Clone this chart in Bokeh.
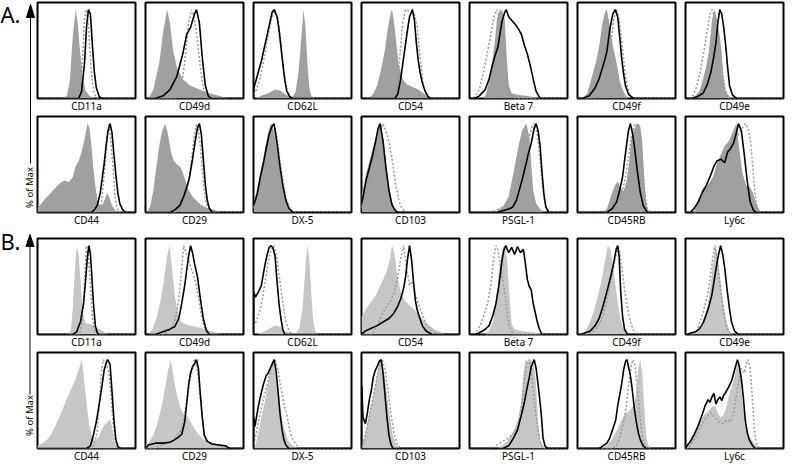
import math
from bokeh.plotting import figure
from bokeh.layouts import row, column
from bokeh.models import Range1d, FixedTicker
from bokeh.core.properties import value
from bokeh.embed import file_html
from bokeh.resources import INLINE

FONT = "Noto Sans"

markers_top = ["CD11a", "CD49d", "CD62L", "CD54", "Beta 7", "CD49f", "CD49e"]
markers_bottom = ["CD44", "CD29", "DX-5", "CD103", "PSGL-1", "CD45RB", "Ly6c"]
groups = ["A.", "B."]
y_title = "% of Max"

# ---- data: (channel %, % of max) ----
# Group A
A_CD11a_fill = [(26,0),(30,3),(33,20),(36,70),(39,100),(41,85),(43,58),(46,25),(49,9),(53,3),(58,0)]
A_CD11a_black = [(42,0),(45,8),(48,40),(50,80),(52,100),(54,95),(56,60),(58,30),(60,12),(63,2),(66,0)]
A_CD11a_dash = [(42,0),(44,8),(46,45),(48,90),(50,100),(52,80),(54,45),(56,18),(58,5),(61,0)]

A_CD49d_fill = [(3,0),(8,10),(14,40),(18,75),(22,100),(25,85),(28,55),(32,35),(38,22),(45,15),(55,10),(65,6),(75,3),(85,0)]
A_CD49d_black = [(10,0),(18,3),(25,10),(32,25),(38,50),(42,72),(46,80),(50,95),(52,100),(55,85),(58,45),(61,15),(64,3),(67,0)]
A_CD49d_dash = [(30,0),(36,10),(40,40),(44,85),(47,100),(50,90),(53,65),(56,35),(59,12),(62,3),(65,0)]

A_CD62L_fill = [(2,0),(8,3),(15,6),(22,10),(27,9),(32,5),(37,2),(40,2),(43,8),(46,30),(49,70),(51,100),(53,80),(55,40),(57,12),(59,3),(62,0)]
A_CD62L_black = [(0,0),(0.3,12),(2,18),(5,30),(8,42),(12,62),(16,82),(19,97),(21,100),(24,92),(26,78),(28,58),(30,38),(32,20),(34,8),(37,2),(40,0)]
A_CD62L_dash = [(0,0),(0.3,5),(3,10),(6,20),(10,40),(14,65),(18,88),(22,100),(25,90),(28,60),(31,30),(34,10),(37,2),(40,0)]

A_CD54_fill = [(7,0),(12,5),(16,15),(20,33),(24,55),(27,80),(30,97),(31,100),(33,88),(35,68),(38,38),(42,22),(46,16),(52,13),(58,10),(64,5),(70,0)]
A_CD54_black = [(34,0),(37,5),(40,22),(43,46),(46,70),(49,92),(52,100),(54,88),(56,62),(58,42),(60,28),(62,18),(65,8),(68,2),(71,0)]
A_CD54_dash = [(33,0),(36,10),(38,30),(40,60),(42,85),(45,100),(50,98),(54,95),(57,80),(59,55),(61,35),(63,15),(66,4),(69,0)]

A_Beta7_fill = [(14,0),(17,5),(20,20),(23,40),(26,65),(28,90),(31,100),(34,98),(36,88),(38,45),(40,15),(43,6),(50,4),(58,3),(64,2),(68,0)]
A_Beta7_black = [(5,0),(10,3),(16,10),(20,22),(23,36),(26,48),(29,58),(33,86),(36,97),(37.5,100),(40,92),(43,88),(47,83),(50,78),(53,72),(56,60),(59,50),(62,37),(65,22),(68,8),(71,2),(73,0)]
A_Beta7_dash = [(3,0),(6,3),(10,10),(14,28),(17,45),(21,68),(25,92),(28,100),(31,90),(34,70),(37,35),(40,10),(43,2),(46,0)]

A_CD49f_fill = [(5,0),(10,6),(15,26),(19,42),(22,58),(25,82),(28,97),(30,100),(33,82),(36,60),(40,40),(43,20),(46,10),(49,4),(52,0)]
A_CD49f_black = [(5,0),(12,3),(18,12),(22,22),(25,33),(28,44),(30,53),(33,78),(36,95),(38.5,100),(41,92),(43,70),(45,46),(47,28),(49,14),(52,5),(56,1),(58,0)]
A_CD49f_dash = [(20,0),(24,5),(28,15),(31,30),(34,60),(37,90),(40,100),(43,85),(46,55),(49,25),(52,8),(55,2),(58,0)]

A_CD49e_fill = [(5,0),(10,3),(14,8),(18,22),(21,36),(24,54),(27,88),(29.5,100),(32,90),(35,70),(37,50),(38.5,25),(41,8),(44,3),(47,0)]
A_CD49e_black = [(6,0),(12,2),(18,6),(22,15),(26,30),(29,48),(31,62),(33,85),(35,100),(37,95),(39,80),(41,60),(43,35),(45,14),(48,4),(52,0)]
A_CD49e_dash = [(5,0),(8,4),(11,12),(15,30),(19,55),(22,75),(25,95),(27,100),(30,92),(33,75),(36,50),(38,28),(40,12),(43,3),(46,0)]

A_CD44_fill = [(0,5),(4,10),(8,16),(12,20),(16,25),(20,30),(24,34),(28,36),(32,34),(36,40),(39,52),(42,58),(45,68),(48,82),(51,100),(53,95),(55,75),(57,50),(59,30),(61,15),(63,9),(66,8),(69,16),(71,22),(73,18),(76,8),(79,3),(82,0)]
A_CD44_black = [(55,0),(58,3),(61,8),(64,22),(66,38),(68,55),(70,75),(72,92),(74,100),(76,90),(78,65),(80,42),(82,22),(84,10),(87,3),(90,0)]
A_CD44_dash = [(62,0),(65,8),(67,30),(69,55),(71,85),(73,100),(75,80),(77,50),(79,20),(81,6),(83,0)]

A_CD29_fill = [(2,0),(5,8),(8,25),(11,50),(14,75),(17,92),(20,100),(23,88),(26,68),(29,58),(32,54),(35,52),(38,45),(41,35),(44,25),(48,18),(53,12),(58,8),(63,5),(70,3),(78,0)]
A_CD29_black = [(25,0),(30,3),(35,8),(39,18),(42,28),(45,40),(48,60),(51,82),(53,95),(55,100),(57,88),(59,60),(61,32),(63,14),(65,5),(68,0)]
A_CD29_dash = [(30,0),(35,5),(40,15),(44,35),(47,60),(50,88),(52,100),(54,92),(56,75),(58,48),(60,25),(62,10),(65,3),(68,0)]

A_DX5_fill = [(0,10),(2,18),(4,28),(7,45),(10,60),(13,80),(16,95),(18,100),(21,92),(24,70),(27,48),(30,28),(33,14),(36,5),(40,0)]
A_DX5_black = [(0,8),(2,14),(4,22),(7,40),(10,55),(13,72),(16,88),(19,97),(21,100),(24,78),(27,52),(30,30),(33,14),(36,5),(40,0)]
A_DX5_dash = [(0,5),(3,15),(6,30),(10,55),(14,80),(18,96),(21,100),(24,85),(27,58),(30,35),(33,16),(37,5),(41,0)]

A_CD103_fill = [(0,20),(2,28),(5,45),(8,58),(11,70),(14,82),(17,94),(19,100),(22,85),(25,55),(28,30),(31,12),(34,4),(37,0)]
A_CD103_black = [(0,10),(2,20),(5,38),(8,50),(11,63),(14,78),(17,95),(19,100),(22,80),(25,50),(28,25),(31,9),(34,3),(37,0)]
A_CD103_dash = [(0,5),(3,15),(6,32),(10,55),(14,75),(18,92),(22,100),(26,88),(29,74),(32,55),(35,30),(38,14),(41,5),(45,0)]

A_PSGL1_fill = [(25,0),(30,3),(35,8),(40,18),(44,40),(47,57),(51,80),(54,93),(58,100),(61,85),(63,55),(65,25),(68,10),(72,4),(76,0)]
A_PSGL1_black = [(28,0),(34,2),(40,4),(44,6),(48,14),(51,26),(54,38),(57.5,54),(60,66),(63,78),(66,95),(68,100),(70,92),(72,75),(74,45),(76,20),(78,6),(81,0)]
A_PSGL1_dash = [(22,0),(28,3),(34,6),(40,12),(45,22),(50,38),(55,60),(60,82),(64,97),(66,100),(69,90),(72,60),(74,35),(76,15),(78,5),(81,0)]

A_CD45RB_fill = [(26,0),(30,4),(34,18),(38,30),(41,35),(44,28),(47,24),(50,35),(53,60),(55,85),(58,94),(61,100),(64,98),(66,80),(68,40),(70,10),(73,0)]
A_CD45RB_black = [(30,0),(35,4),(40,12),(43,25),(46,40),(49,67),(52,92),(54,100),(56,90),(58,75),(61,47),(64,23),(67,8),(70,2),(72,0)]
A_CD45RB_dash = [(33,0),(40,6),(45,20),(49,40),(52,62),(55,85),(58,98),(60,100),(63,90),(65,72),(67,45),(69,18),(71,5),(74,0)]

A_Ly6c_fill = [(8,0),(12,10),(16,20),(20,27),(24,33),(28,40),(32,55),(36,65),(40,75),(44,80),(48,90),(52,100),(55,70),(58,45),(62,30),(66,28),(69,22),(72,10),(75,3),(78,0)]
A_Ly6c_black = [(5,0),(9,5),(13,12),(17,22),(21,30),(25,40),(29,52),(32,58),(36,60),(40,56),(43,68),(46,72),(49,78),(52,90),(54,100),(57,92),(60,65),(63,35),(66,12),(69,3),(72,0)]
A_Ly6c_dash = [(10,0),(14,10),(18,28),(22,25),(26,32),(30,40),(34,48),(38,55),(42,60),(46,68),(50,78),(54,88),(58,95),(61,100),(64,95),(67,75),(69,45),(71,20),(73,6),(76,0)]

# Group B
B_CD11a_fill = [(31,0),(34,5),(36,30),(38,70),(40,100),(42,90),(44,60),(46,25),(49,13),(53,12),(58,10),(63,6),(68,3),(72,0)]
B_CD11a_black = [(36,0),(40,3),(44,15),(47,35),(49,60),(51,88),(52.5,100),(54,90),(55.5,65),(57,36),(59,10),(61,2),(63,0)]
B_CD11a_dash = [(43,0),(45,10),(47,35),(48.5,70),(50,100),(52,88),(54,55),(56,20),(58,5),(60,0)]

B_CD49d_fill = [(3,0),(7,6),(11,18),(15,36),(19,62),(22,88),(24.5,100),(27,75),(30,43),(33,25),(36,15),(40,12),(45,10),(50,9),(55,8),(60,6),(66,4),(72,2),(78,0)]
B_CD49d_black = [(10,0),(15,2),(20,4),(25,6),(30,9),(34,18),(37,35),(40,55),(42,72),(44,88),(46,100),(48,92),(50,80),(53,65),(56,40),(59,18),(62,5),(65,0)]
B_CD49d_dash = [(18,0),(24,4),(28,10),(32,25),(35,50),(37,75),(39,100),(42,90),(45,80),(48,70),(51,60),(54,42),(57,22),(60,8),(63,2),(66,0)]

B_CD62L_fill = [(3,0),(10,3),(15,6),(20,9),(24,10),(28,8),(32,4),(38,2),(44,2),(47,8),(50,30),(52,60),(54,90),(55,100),(57,85),(59,45),(61,15),(63,4),(66,0)]
B_CD62L_black = [(0,0),(0.3,48),(2,42),(5,48),(8,55),(10,68),(12,80),(14,90),(16,98),(18,100),(20,97),(22,88),(24,60),(26,35),(28,18),(30,5),(32,0)]
B_CD62L_dash = [(0,0),(0.3,10),(3,15),(6,25),(9,40),(12,60),(15,82),(18,96),(21,100),(24,85),(27,60),(30,35),(33,15),(36,5),(39,0)]

B_CD54_fill = [(0,20),(3,25),(6,31),(10,37),(14,43),(18,52),(22,62),(26,72),(29,85),(31,100),(33,95),(35,80),(37,62),(40,48),(44,38),(50,32),(56,25),(62,18),(68,11),(74,6),(80,3),(85,0)]
B_CD54_black = [(0,0),(4,4),(10,7),(16,10),(22,14),(28,18),(33,24),(37,32),(40,40),(43,52),(45,65),(47,85),(49,100),(51,85),(53,60),(55,38),(57,27),(59,20),(62,10),(66,4),(72,0)]
B_CD54_dash = [(10,0),(14,5),(18,15),(22,25),(26,32),(30,38),(34,50),(37,65),(40,85),(43,100),(46,75),(49,55),(52,60),(55,45),(58,35),(62,22),(66,12),(70,6),(75,2),(80,0)]

B_Beta7_fill = [(16,0),(20,4),(24,15),(27,40),(30,70),(33,92),(35,100),(37,96),(39,75),(41,40),(43,12),(46,6),(52,4),(60,3),(68,2),(73,0)]
B_Beta7_black = [(6,0),(10,2),(15,5),(20,10),(24,22),(27,35),(30,55),(33,82),(35,95),(37,100),(40,92),(43,98),(46,90),(49,99),(52,92),(55,96),(57,80),(59,62),(61,54),(63,50),(65,35),(67,25),(69,15),(71,7),(74,0)]
B_Beta7_dash = [(3,0),(7,3),(11,10),(15,22),(19,38),(22,58),(25,88),(27,100),(29,95),(31,80),(34,62),(37,40),(39,20),(41,8),(44,2),(47,0)]

B_CD49f_fill = [(4,0),(8,3),(12,12),(16,24),(20,40),(24,58),(28,82),(31,100),(34,95),(37,70),(40,45),(43,22),(46,9),(49,3),(53,0)]
B_CD49f_black = [(3,0),(8,2),(13,4),(18,10),(22,18),(25,28),(29,44),(32,57),(35,70),(37.5,84),(39.5,96),(41,100),(42.5,88),(44,50),(46,20),(48,6),(51,0)]
B_CD49f_dash = [(10,0),(15,3),(20,8),(25,18),(29,35),(33,55),(36,72),(39,88),(42,100),(44,85),(46,68),(48,50),(51,30),(54,14),(57,5),(60,0)]

B_CD49e_fill = [(4,0),(8,2),(12,5),(16,10),(19,20),(22,30),(25,50),(28,80),(30.5,100),(33,85),(36,58),(39,32),(42,14),(45,4),(48,0)]
B_CD49e_black = [(2,0),(6,2),(10,3),(14,6),(18,13),(21,22),(24,32),(27,45),(30,66),(33,86),(35.8,100),(38,90),(40,75),(42.5,50),(45,28),(47,14),(50,4),(54,0)]
B_CD49e_dash = [(8,0),(12,5),(15,15),(18,25),(22,42),(25,62),(28,88),(30,100),(32,88),(34,66),(36,48),(38,32),(40,18),(42,8),(45,2),(48,0)]

B_CD44_fill = [(0,3),(5,6),(10,10),(14,16),(18,25),(22,35),(26,45),(30,56),(34,66),(38,76),(42,88),(45,100),(47,85),(49,62),(51,42),(53,25),(56,13),(59,9),(62,12),(65,20),(68,26),(71,29),(74,33),(76,25),(78,10),(80,3),(82,0)]
B_CD44_black = [(50,0),(54,3),(57,15),(60,30),(63,50),(66,72),(68,88),(70,96),(71.5,100),(74,95),(76,65),(78,32),(80,10),(82,2),(85,0)]
B_CD44_dash = [(55,0),(58,5),(61,20),(63,50),(65,85),(67,100),(70,95),(73,85),(75,60),(77,30),(79,10),(82,0)]

B_CD29_fill = [(0,3),(4,8),(8,15),(12,28),(16,45),(20,68),(23,88),(26,100),(29,78),(32,60),(35,48),(38,40),(41,37),(43,36),(46,30),(50,22),(55,15),(60,10),(66,7),(72,5),(78,3),(84,0)]
B_CD29_black = [(0,0),(3,4),(10,6),(18,6),(25,7),(30,10),(34,13),(37,16),(40,30),(42,50),(44,72),(46,85),(48,92),(50,95),(52,100),(54,90),(56,60),(58,35),(60,15),(63,8),(68,5),(75,4),(82,3),(86,0)]
B_CD29_dash = [(10,0),(16,4),(22,6),(28,9),(32,14),(36,20),(39,32),(42,52),(45,75),(48,90),(50,100),(52,95),(54,80),(56,55),(58,32),(60,16),(63,8),(68,5),(73,4),(78,2),(84,0)]

B_DX5_fill = [(1,0),(3,8),(6,24),(9,40),(12,55),(15,75),(18,94),(20.5,100),(23,85),(26,55),(29,35),(32,20),(35,10),(38,5),(42,2),(45,0)]
B_DX5_black = [(0,0),(0.3,35),(1.5,25),(3,35),(5,48),(7,58),(10,72),(13,82),(15,85),(17,90),(19,95),(21,100),(23,88),(25,65),(27,40),(29,22),(31,10),(33,4),(36,0)]
B_DX5_dash = [(0,0),(0.3,5),(3,18),(6,35),(10,55),(14,72),(18,90),(22,100),(25,88),(28,68),(31,50),(34,38),(37,20),(40,10),(44,4),(48,0)]

B_CD103_fill = [(0,5),(3,12),(6,28),(9,45),(12,58),(15,78),(18,95),(20,100),(23,88),(26,60),(29,35),(32,15),(35,5),(38,1),(40,0)]
B_CD103_black = [(0,0),(0.3,70),(1.5,35),(4,28),(6,40),(8,55),(10,65),(12,80),(14,88),(16,92),(18,98),(20,100),(22,85),(24,60),(26,35),(28,15),(30,5),(32,0)]
B_CD103_dash = [(0,0),(0.3,3),(3,10),(6,25),(9,42),(12,58),(15,75),(18,92),(21,100),(24,90),(27,65),(30,40),(33,18),(36,6),(40,0)]

B_PSGL1_fill = [(28,0),(33,3),(38,8),(42,14),(46,22),(50,35),(53,55),(55,85),(57,100),(60,98),(63,100),(66,92),(68,70),(70,30),(72,10),(75,3),(78,0)]
B_PSGL1_black = [(34,0),(40,3),(45,12),(49,21),(53,38),(56,52),(58,64),(61,80),(63,92),(66,100),(68,90),(70,72),(72,52),(73.5,35),(75,12),(77,3),(80,0)]
B_PSGL1_dash = [(24,0),(28,4),(34,8),(40,12),(46,18),(50,28),(53,45),(56,75),(58,92),(61,100),(63,85),(65,65),(67,45),(69,28),(71,12),(73,4),(76,0)]

B_CD45RB_fill = [(24,0),(30,4),(35,10),(40,20),(44,30),(48,38),(52,42),(55,45),(58,50),(60,65),(62,90),(64,100),(66,85),(68,50),(70,15),(72,4),(75,0)]
B_CD45RB_black = [(22,0),(26,3),(30,6),(33,12),(36,22),(39,32),(41,48),(43,60),(45,72),(47,88),(49,98),(50.5,100),(52,92),(54,82),(56,65),(58,45),(60,30),(62,18),(64,10),(67,3),(70,0)]
B_CD45RB_dash = [(36,0),(40,4),(43,12),(46,25),(49,42),(52,68),(55,95),(57,100),(59,92),(61,70),(63,45),(65,22),(67,8),(70,2),(73,0)]

B_Ly6c_fill = [(0,3),(3,6),(7,14),(11,22),(15,30),(19,38),(23,42),(27,47),(30,48),(33,40),(36,35),(39,38),(42,48),(45,62),(48,72),(51,86),(54,100),(56,85),(58,55),(60,38),(63,22),(66,12),(70,6),(74,2),(77,0)]
B_Ly6c_black = [(0,0),(2,4),(5,8),(9,16),(13,26),(17,38),(20,48),(23,55),(25,52),(27,58),(29,62),(31,50),(33,55),(35,58),(37,54),(39,60),(41,63),(44,69),(47,76),(50,88),(53,100),(55,92),(57,78),(59,58),(61,32),(63,18),(65,10),(68,4),(71,0)]
B_Ly6c_dash = [(2,0),(6,5),(10,12),(14,22),(18,30),(22,36),(26,40),(30,35),(34,30),(38,28),(42,32),(46,30),(49,40),(52,60),(55,80),(57,90),(60,85),(62,95),(64,100),(66,90),(68,60),(70,25),(72,8),(75,0)]

# ---- styling ----
FILL_COLOR = {"A": "#a0a0a0", "B": "#c6c6c6"}
DASH_COLOR = "#999999"
FW, FH = 98, 96
ROW_TOP = [2, 1, 9, 1]
BOTTOM = 13
STRIP_W = 35
LABEL_SIZE = "10px"


def key(m):
    return m.replace(" ", "").replace("-", "")


def closed(pts):
    pts = list(pts)
    if pts[0][0] > 0:
        pts = [(0, 0)] + pts
    if pts[-1][0] < 100:
        pts = pts + [(100, 0)]
    return pts


def make_panel(grp, marker, top_border):
    k = key(marker)
    fill = globals()[f"{grp}_{k}_fill"]
    black = globals()[f"{grp}_{k}_black"]
    dash = globals()[f"{grp}_{k}_dash"]
    p = figure(frame_width=FW, frame_height=FH, x_range=Range1d(0, 100), y_range=Range1d(0, 108),
               min_border_left=2, min_border_right=8, min_border_top=top_border,
               min_border_bottom=BOTTOM, toolbar_location=None, output_backend="svg",
               y_axis_location=None, tools="")
    p.xgrid.visible = False
    p.ygrid.visible = False
    ax = p.xaxis[0]
    ax.ticker = FixedTicker(ticks=[])
    ax.axis_line_color = None
    ax.major_tick_line_color = None
    ax.minor_tick_line_color = None
    ax.major_tick_out = 0
    ax.major_tick_in = 0
    ax.minor_tick_out = 0
    ax.minor_tick_in = 0
    ax.major_label_standoff = 0
    ax.major_label_text_font_size = "0px"
    ax.axis_label = marker
    ax.axis_label_standoff = 0
    ax.axis_label_text_font = FONT
    ax.axis_label_text_font_size = LABEL_SIZE
    ax.axis_label_text_font_style = "normal"
    ax.axis_label_text_color = "black"
    p.outline_line_color = "black"
    p.outline_line_width = 2
    p.outline_line_alpha = 1
    p.background_fill_color = "white"
    p.border_fill_color = "white"

    fx = [q[0] for q in fill]
    fy = [q[1] for q in fill]
    p.varea(x=fx, y1=[0] * len(fx), y2=fy, fill_color=FILL_COLOR[grp], fill_alpha=1)
    d = closed(dash)
    p.line([q[0] for q in d], [q[1] for q in d], line_color=DASH_COLOR, line_width=1.5, line_dash="2 2")
    b = closed(black)
    p.line([q[0] for q in b], [q[1] for q in b], line_color="black", line_width=1.6)
    return p


rows = []
ri = 0
for grp in ["A", "B"]:
    for markers in (markers_top, markers_bottom):
        rows.append(row(*[make_panel(grp, m, ROW_TOP[ri]) for m in markers]))
        ri += 1
grid = column(*rows)

row_h = [t + FH + BOTTOM for t in ROW_TOP]
H = sum(row_h)

# left strip with group letters and y-axis arrows
s = figure(frame_width=STRIP_W, frame_height=H, x_range=Range1d(0, STRIP_W), y_range=Range1d(0, H),
           min_border=0, toolbar_location=None, output_backend="svg", tools="",
           x_axis_location=None, y_axis_location=None)
s.xgrid.visible = False
s.ygrid.visible = False
s.outline_line_color = None
s.background_fill_color = "white"
s.border_fill_color = "white"

tops = []
acc = 0
for t, h in zip(ROW_TOP, row_h):
    tops.append(acc + t)
    acc += h

arrow_specs = [
    # (letter, letter_y, line_x, tip_y, base_y, line_end_y, text_center_y) measured from the top
    ("A.", tops[0] + 11, 30.0, tops[0] + 2, tops[0] + 15, tops[1] + 51, tops[1] + 75),
    ("B.", tops[2] + 10, 29.5, tops[2] + 4, tops[2] + 16, tops[3] + 54, tops[3] + 75),
]
for letter, ly, lx, tip, base, lend, tc in arrow_specs:
    s.text(x=[0], y=[H - ly], text=[letter], text_align="left", text_baseline="middle",
           text_font=value(FONT), text_font_size=value("22px"), text_color="black")
    s.patch(x=[lx - 4, lx, lx + 4], y=[H - base, H - tip, H - base], fill_color="black", line_color="black")
    s.line(x=[lx, lx], y=[H - base, H - lend], line_color="black", line_width=1)
    s.text(x=[lx - 1], y=[H - tc], text=[y_title], angle=math.pi / 2, text_align="center",
           text_baseline="middle", text_font=value(FONT), text_font_size=value("9.5px"), text_color="black")

layout = row(s, grid)
open("out.html", "w").write(file_html(layout, INLINE))
